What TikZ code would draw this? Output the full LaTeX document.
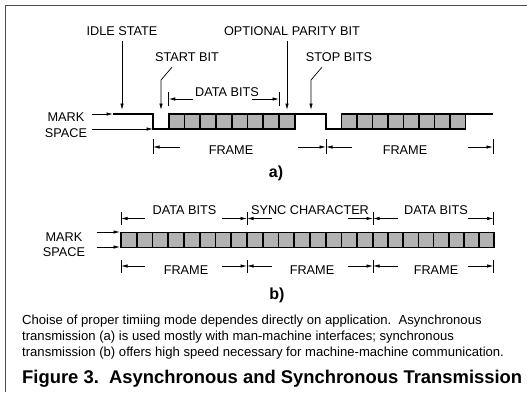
\documentclass[tikz,border=0pt]{standalone}
\usepackage{fontspec}
\setmainfont{Liberation Sans}
\usetikzlibrary{positioning}
\usetikzlibrary{arrows.meta}

\begin{document}
\begin{tikzpicture}[x=1pt,y=-1pt,
lbl/.style={font=\fontsize{12.7}{14}\selectfont, inner sep=0pt},
part/.style={font=\bfseries\fontsize{16}{18}\selectfont, inner sep=0pt},
paths/.style={-{Latex[length=6.5pt,width=3.4pt]}, line width=0.7pt},
bar/.style={line width=0.7pt},
wave/.style={line width=2pt, line join=miter},
cell/.style={draw, line width=1.7pt, fill=black!30}
]
\useasboundingbox (0,0) rectangle (527,392);
\draw[line width=1pt, black!70] (5,392) -- (5,5.5) -- (527,5.5);

%create nodes a)
\node[lbl] (idle) at (122,31) {IDLE STATE};
\node[lbl] (parity) at (292,31) {OPTIONAL PARITY BIT};
\node[lbl] (start) at (187,57) {START BIT};
\node[lbl] (stop) at (339,57) {STOP BITS};
\node[lbl] (data) at (227,92) {DATA BITS};
\node[lbl] (marka) at (66,117) {MARK};
\node[lbl] (spacea) at (66,133) {SPACE};
\node[lbl] (framea1) at (231,150) {FRAME};
\node[lbl] (framea2) at (405,150) {FRAME};
\node[part] (capa) at (276,173) {a)};

%create nodes b)
\node[lbl] (datab1) at (184.5,210) {DATA BITS};
\node[lbl] (sync) at (310,210) {SYNC CHARACTER};
\node[lbl] (datab2) at (436,210) {DATA BITS};
\node[lbl] (markb) at (64,237) {MARK};
\node[lbl] (spaceb) at (64,252) {SPACE};
\node[lbl] (frameb1) at (186,270) {FRAME};
\node[lbl] (frameb2) at (312,270) {FRAME};
\node[lbl] (frameb3) at (436,270) {FRAME};
\node[part] (capb) at (277,295) {b)};

%caption
\node[anchor=north west, align=left, inner sep=0pt,
  font=\fontsize{13.1}{15.7}\selectfont] (note) at (22,315)
  {Choise of proper timiing mode dependes directly on application.\ \ Asynchronous\\
   transmission (a) is used mostly with man-machine interfaces; synchronous\\
   transmission (b) offers high speed necessary for machine-machine communication.};
\node[anchor=west, inner sep=0pt,
  font=\bfseries\fontsize{18.4}{20}\selectfont] (title) at (22,379)
  {Figure 3.\ \ Asynchronous and Synchronous Transmission};

%coordinates a)
\coordinate (ma) at (113,114);
\coordinate (mat) at (92,114);
\coordinate (sa) at (153,129);
\coordinate (sat) at (92,129);
\coordinate (idletip) at (122,110);
\coordinate (paritytip) at (287,110);
\coordinate (startbend) at (161,80);
\coordinate (starttip) at (161,110);
\coordinate (stopbend) at (311,80);
\coordinate (stoptip) at (311,110);
\coordinate (dl) at (168.75,99);
\coordinate (dlt) at (193,99);
\coordinate (dr) at (279,99);
\coordinate (drt) at (252,99);
\coordinate (fa1) at (153,147);
\coordinate (fa1t) at (180,147);
\coordinate (fa2) at (326,147);
\coordinate (fa2l) at (298,147);
\coordinate (fa2r) at (352,147);
\coordinate (fa3) at (493,147);
\coordinate (fa3t) at (468,147);

%waveform a)
\draw[wave] (ma) -- (153,114) -- (153,129) -- (168.75,129);
\foreach \k in {0,...,7}
  \draw[cell] (168.75+15.75*\k,114) rectangle ++(15.75,15);
\draw[wave] (294.75,114) -- (326,114) -- (326,129) -- (341.5,129);
\foreach \k in {0,...,7}
  \draw[cell] (341.5+15.5*\k,114) rectangle ++(15.5,15);
\draw[wave] (465.5,114) -- (493,114);

%draw paths a)
\draw[paths] (mat) -- (ma);
\draw[paths] (sat) -- (sa);
\draw[paths] ([yshift=-5.5pt]idle.south) -- (idletip);
\draw[paths] ([yshift=-5.5pt]paritytip |- parity.south) -- (paritytip);
\draw[paths] ([xshift=-15pt,yshift=-5.5pt]start.south) -- (startbend) -- (starttip);
\draw[paths] ([xshift=-17pt,yshift=-5.5pt]stop.south) -- (stopbend) -- (stoptip);

\draw[bar] ([yshift=7pt]dl) -- ([yshift=-7pt]dl);
\draw[bar] ([yshift=7pt]dr) -- ([yshift=-7pt]dr);
\draw[paths] (dlt) -- (dl);
\draw[paths] (drt) -- (dr);

\draw[bar] ([yshift=8pt]fa1) -- ([yshift=-7pt]fa1);
\draw[bar] ([yshift=8pt]fa2) -- ([yshift=-7pt]fa2);
\draw[bar] ([yshift=8pt]fa3) -- ([yshift=-7pt]fa3);
\draw[paths] (fa1t) -- (fa1);
\draw[paths] (fa2l) -- (fa2);
\draw[paths] (fa2r) -- (fa2);
\draw[paths] (fa3t) -- (fa3);

%coordinates b)
\coordinate (mb) at (120,232);
\coordinate (mbt) at (97,232);
\coordinate (sb) at (120,247);
\coordinate (sbt) at (97,247);

%waveform b)
\foreach \k in {0,...,15}
  \draw[cell] (121+15.75*\k,232.5) rectangle ++(15.75,15);
\foreach \k in {0,...,7}
  \draw[cell] (373+15.15*\k,232.5) rectangle ++(15.15,15);

%draw paths b)
\draw[paths] (mbt) -- (mb);
\draw[paths] (sbt) -- (sb);

\foreach \y/\n in {218.5/t, 266/f}{
  \coordinate (\n1) at (121,\y);
  \coordinate (\n2) at (247,\y);
  \coordinate (\n3) at (373,\y);
  \coordinate (\n4) at (493.5,\y);
  \draw[bar] ([yshift=6.5pt]\n1) -- ([yshift=-6.5pt]\n1);
  \draw[bar] ([yshift=6.5pt]\n2) -- ([yshift=-6.5pt]\n2);
  \draw[bar] ([yshift=6.5pt]\n3) -- ([yshift=-6.5pt]\n3);
  \draw[bar] ([yshift=6.5pt]\n4) -- ([yshift=-6.5pt]\n4);
  \draw[paths] ([xshift=24pt]\n1) -- (\n1);
  \draw[paths] ([xshift=-25pt]\n2) -- (\n2);
  \draw[paths] ([xshift=25pt]\n2) -- (\n2);
  \draw[paths] ([xshift=-25pt]\n3) -- (\n3);
  \draw[paths] ([xshift=25pt]\n3) -- (\n3);
  \draw[paths] ([xshift=-25.5pt]\n4) -- (\n4);
}

\end{tikzpicture}
\end{document}
